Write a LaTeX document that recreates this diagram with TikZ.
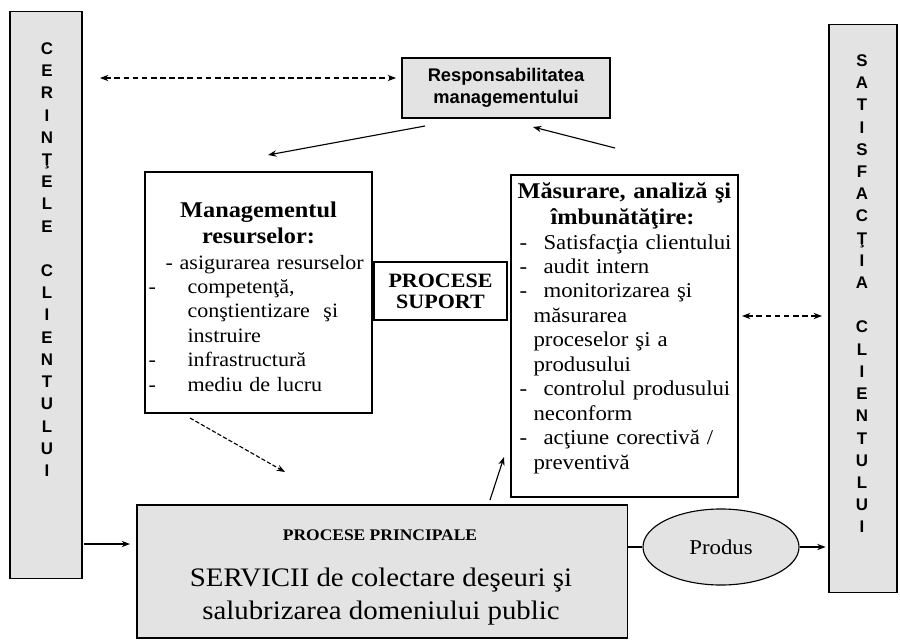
\documentclass[tikz,border=0pt]{standalone}
\usepackage{fontspec}
\setmainfont[FakeStretch=1.08]{Liberation Serif}
\setsansfont{Liberation Sans}
\usetikzlibrary{shapes.geometric,arrows.meta}

\newcommand{\dashitem}[1]{\makebox[#1][l]{-}}

\begin{document}
\begin{tikzpicture}[x=0.025cm,y=-0.025cm,>={Stealth[length=6pt,width=4.5pt]},line width=0.8pt]
\tikzstyle{every node}=[inner sep=0pt]
\tikzstyle{box}=[draw,rectangle,line width=0.8pt]
\tikzstyle{grey box}=[box,fill=gray!22]
\tikzstyle{letters}=[align=center,anchor=north,font=\sffamily\bfseries\fontsize{12}{15.8}\selectfont]
\tikzstyle{title}=[font=\bfseries\fontsize{16}{17.8}\selectfont]
\tikzstyle{items}=[align=left,anchor=base west,font=\fontsize{15}{17.4}\selectfont]
\tikzstyle{dashline}=[dash pattern=on 4pt off 2.5pt]

\useasboundingbox (0,0) rectangle (900,643);

% side columns
\node[grey box,minimum width=1.8cm,minimum height=14.15cm] (cerinte) at (46,295) {};
\node[letters] (cerinte text) at (47,42) {C\\E\\R\\I\\N\\Ţ\\E\\L\\E\\[15.8pt]C\\L\\I\\E\\N\\T\\U\\L\\U\\I};
\node[grey box,minimum width=1.7cm,minimum height=14.175cm] (satisfactie) at (863,308.5) {};
\node[letters] (satisfactie text) at (862,54) {S\\A\\T\\I\\S\\F\\A\\C\\Ţ\\I\\A\\[15.8pt]C\\L\\I\\E\\N\\T\\U\\L\\U\\I};

% management
\node[grey box,minimum width=5.2cm,minimum height=1.5cm,align=center,
  font=\sffamily\bfseries\fontsize{13}{15.6}\selectfont] (resp) at (506,88) {Responsabilitatea\\managementului};

\node[box,minimum width=5.675cm,minimum height=6.025cm] (resurse) at (258.5,292.5) {};
\node[title,text width=5.5cm,align=center,anchor=base] (resurse title) at (258.5,218) {Managementul\\resurselor:};
\node[items,text width=6cm,font=\fontsize{14.5}{17.4}\selectfont] (resurse items) at (148,269) {%
\hspace*{0.425cm}- asigurarea resurselor\\
\dashitem{0.975cm}competenţă,\\
\hspace*{0.975cm}conştientizare\ \ şi\\
\hspace*{0.975cm}instruire\\
\dashitem{0.975cm}infrastructură\\
\dashitem{0.975cm}mediu de lucru};

\node[box,minimum width=3.325cm,minimum height=1.45cm,align=center,
  font=\bfseries\fontsize{14.5}{15}\selectfont] (suport) at (440.5,291) {PROCESE\\SUPORT};

\node[box,minimum width=5.675cm,minimum height=8.05cm] (masurare) at (624.5,336) {};
\node[title,text width=5.6cm,align=left,anchor=base west] (masurare title) at (517,199) {Măsurare, analiză şi\\\hspace*{0.825cm}îmbunătăţire:};
\node[items,text width=5.6cm] (masurare items) at (519,249) {%
\dashitem{0.6cm}Satisfacţia clientului\\
\dashitem{0.6cm}audit intern\\
\dashitem{0.6cm}monitorizarea şi\\
\hspace*{0.35cm}măsurarea\\
\hspace*{0.35cm}proceselor şi a\\
\hspace*{0.35cm}produsului\\
\dashitem{0.6cm}controlul produsului\\
\hspace*{0.35cm}neconform\\
\dashitem{0.6cm}acţiune corectivă /\\
\hspace*{0.35cm}preventivă};

% main process
\node[grey box,minimum width=12.25cm,minimum height=3.325cm] (principale) at (382,571.5) {};
\node[font=\bfseries\fontsize{11.5}{13}\selectfont] (principale title) at (380,535) {PROCESE PRINCIPALE};
\node[align=center,font=\fontsize{19}{23.5}\selectfont] (servicii) at (381,597) {SERVICII de colectare deşeuri şi\\salubrizarea domeniului public};

\node[draw,ellipse,fill=gray!22,minimum width=3.9cm,minimum height=1.9cm,
  font=\fontsize{15}{17}\selectfont] (produs) at (721,547) {Produs};

% free ends
\coordinate (cerinte arrow) at (100,78);
\coordinate (resp arrow) at (396,78);
\coordinate (resp out) at (425,126);
\coordinate (resurse in) at (268,155);
\coordinate (masurare out) at (615,148);
\coordinate (resp in) at (533,127);
\coordinate (masurare arrow) at (742,316);
\coordinate (satisfactie arrow) at (822,316);
\coordinate (resurse out) at (190,418);
\coordinate (principale in) at (285,472);
\coordinate (principale out) at (490,500);
\coordinate (masurare in) at (504,457);
\coordinate (cerinte out) at (84,544);
\coordinate (principale left) at (130,544);

\draw[<->,dashline] (cerinte arrow) -- (resp arrow);
\draw[->] (resp out) -- (resurse in);
\draw[->] (masurare out) -- (resp in);
\draw[<->,dashline] (masurare arrow) -- (satisfactie arrow);
\draw[->,dash pattern=on 3pt off 1.5pt] (resurse out) -- (principale in);
\draw[->] (principale out) -- (masurare in);
\draw[->] (cerinte out) -- (principale left);
\draw (principale.east |- produs.west) -- (produs.west);
\draw[->] (produs.east) -- ([xshift=-2pt]satisfactie.west |- produs.east);
\end{tikzpicture}
\end{document}
